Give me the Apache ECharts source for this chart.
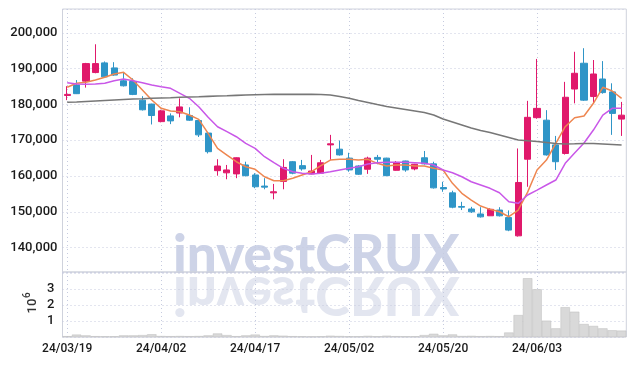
<!DOCTYPE html>
<html>
<head>
<meta charset="utf-8">
<script src="https://cdn.jsdelivr.net/npm/echarts@6/dist/echarts.min.js"></script>
<style>
  html, body { margin: 0; padding: 0; background: #fff; }
  #chart { width: 636px; height: 366px; }
</style>
</head>
<body>
<div id="chart"></div>
<script>
var dates = ['24/03/19', '24/03/20', '24/03/21', '24/03/22', '24/03/25', '24/03/26', '24/03/27', '24/03/28', '24/03/29', '24/04/01',
  '24/04/02', '24/04/03', '24/04/04', '24/04/05', '24/04/08', '24/04/09', '24/04/11', '24/04/12', '24/04/15', '24/04/16',
  '24/04/17', '24/04/18', '24/04/19', '24/04/22', '24/04/23', '24/04/24', '24/04/25', '24/04/26', '24/04/29', '24/04/30',
  '24/05/02', '24/05/03', '24/05/07', '24/05/08', '24/05/09', '24/05/10', '24/05/13', '24/05/14', '24/05/16', '24/05/17',
  '24/05/20', '24/05/21', '24/05/22', '24/05/23', '24/05/24', '24/05/27', '24/05/28', '24/05/29', '24/05/30', '24/05/31',
  '24/06/03', '24/06/04', '24/06/05', '24/06/07', '24/06/10', '24/06/11', '24/06/12', '24/06/13', '24/06/14', '24/06/17'];

var opens = [182500, 185400, 186500, 188900, 191600, 190200, 186600, 186400, 181200, 180100,
  175200, 176800, 177600, 176900, 175500, 172000, 161500, 160900, 160600, 163100,
  160300, 157200, 155300, 158500, 164000, 162900, 160600, 160800, 168700, 167500,
  165000, 162800, 161900, 165200, 165000, 161600, 164200, 162000, 165100, 163400,
  156800, 155300, 151500, 150800, 149400, 148900, 150500, 148400, 143300, 164700,
  176300, 175600, 168700, 166300, 184300, 191500, 182200, 187100, 183500, 175900];
var closes = [182800, 183000, 191400, 191400, 187700, 188200, 185200, 182800, 178500, 176900,
  178200, 175400, 179300, 175600, 171500, 166800, 162800, 161700, 165100, 160100,
  157000, 156900, 155600, 162400, 160800, 162000, 161400, 163700, 169000, 165900,
  161700, 160500, 165000, 164700, 160100, 163800, 161700, 163300, 163400, 156700,
  156400, 151300, 151300, 150000, 148600, 150700, 148900, 144900, 158200, 176400,
  178900, 165900, 164000, 182000, 188700, 181200, 188500, 183300, 177500, 177000];
var lows = [181200, 182900, 184700, 188700, 187500, 188000, 185000, 182600, 178300, 174400,
  175000, 174500, 176400, 175400, 170900, 166300, 160100, 159100, 159400, 159900,
  156600, 156300, 153500, 156300, 160500, 161500, 160500, 160600, 164500, 165700,
  161200, 160300, 160600, 163300, 160000, 161500, 161200, 161600, 163200, 156500,
  155600, 151000, 150500, 149700, 148400, 148900, 148700, 144600, 143100, 157000,
  176000, 165700, 161700, 166000, 180300, 181000, 180300, 183000, 171500, 171200];
var highs = [185100, 186800, 191600, 196800, 192000, 191800, 189000, 187300, 182300, 180200,
  178500, 177500, 181700, 179200, 175800, 172300, 164700, 163100, 165200, 164000,
  160800, 159400, 157800, 164700, 164200, 164500, 165900, 164500, 171500, 169900,
  166500, 163000, 165400, 165900, 165100, 164200, 164300, 163400, 167000, 164000,
  158400, 155900, 152800, 151400, 151300, 151000, 151300, 150400, 167700, 181000,
  192700, 178400, 171200, 186300, 194700, 195700, 192400, 192100, 185900, 180700];

// moving averages
var ma5 = [184780, 185900, 186170, 186820, 187570, 188490, 188970, 186820, 184020, 181230,
  178910, 178160, 177960, 177040, 175840, 171930, 167740, 165870, 164000, 162600,
  161880, 159810, 158690, 158690, 159360, 160280, 161210, 162880, 164470, 164670,
  164670, 164470, 164670, 163550, 162800, 163080, 163080, 162800, 162800, 162160,
  161680, 157960, 155170, 153300, 151630, 150700, 150030, 148640, 150510, 155500,
  161680, 164470, 169140, 173770, 176290, 176760, 180310, 184780, 183750, 181710];
var ma10 = [186060, 185700, 185620, 185700, 185900, 186620, 187100, 186620, 186060, 185420,
  184950, 184500, 183100, 181710, 179360, 176400, 173770, 172380, 170980, 169140,
  167740, 165400, 163720, 162160, 161210, 160760, 160560, 160760, 161210, 161680,
  162160, 162600, 163360, 163720, 163830, 163830, 163830, 163720, 163550, 163080,
  161680, 160930, 159810, 158410, 157490, 156570, 155340, 152830, 152380, 154700,
  156090, 157490, 158890, 163550, 166430, 169220, 172850, 177040, 178910, 178910];
var ma60 = [180590, 180670, 180810, 180950, 181090, 181230, 181370, 181510, 181590, 181710,
  181790, 181870, 181990, 182070, 182150, 182260, 182350, 182430, 182540, 182630,
  182710, 182770, 182820, 182820, 182820, 182820, 182820, 182770, 182630, 182210,
  181710, 181090, 180530, 179970, 179420, 179000, 178580, 178160, 177740, 177040,
  175920, 175090, 174250, 173410, 172710, 172150, 171460, 170760, 170060, 169840,
  169640, 169360, 169080, 168940, 169000, 169080, 169080, 168940, 168800, 168660];

// volume in millions
var volumes = [0.05, 0.15, 0.1, 0.05, 0.04, 0.04, 0.1, 0.1, 0.12, 0.17,
  0.06, 0.05, 0.06, 0.05, 0.06, 0.1, 0.22, 0.12, 0.05, 0.1,
  0.15, 0.06, 0.1, 0.08, 0.05, 0.04, 0.03, 0.04, 0.08, 0.06,
  0.04, 0.04, 0.07, 0.04, 0.08, 0.05, 0.04, 0.04, 0.12, 0.2,
  0.1, 0.16, 0.06, 0.07, 0.05, 0.06, 0.05, 0.28, 1.37, 3.67,
  2.98, 1.02, 0.54, 1.86, 1.58, 0.81, 0.69, 0.54, 0.42, 0.4];

var volTicks = [1, 2, 3];

var UP = '#e0196b';
var DOWN = '#2f95c7';
var gridLine = { color: '#c6cbdf', type: [1, 3], width: 1 };
var labelFont = 'Roboto';
var markFont = '900 54px Lato, Roboto, "Liberation Sans"';

var candles = opens.map(function (o, i) {
  return [o, closes[i], lows[i], highs[i]];
});

var chart = echarts.init(document.getElementById('chart'), null, { renderer: 'canvas' });

var option = {
  animation: false,
  backgroundColor: '#fff',
  grid: [
    { left: 62.5, right: 9.7, top: 9, height: 263, show: true, borderColor: '#cfd2dc', borderWidth: 1 },
    { left: 62.5, right: 9.7, top: 272, height: 65, show: true, borderColor: '#cfd2dc', borderWidth: 1 }
  ],
  xAxis: [
    {
      type: 'category', gridIndex: 0, data: dates, boundaryGap: true,
      axisLine: { show: false }, axisTick: { show: false }, axisLabel: { show: false },
      splitLine: { show: true, interval: 9, alignWithLabel: true, lineStyle: gridLine }
    },
    {
      type: 'category', gridIndex: 1, data: dates, boundaryGap: true,
      axisLine: { show: false }, axisTick: { show: false },
      axisLabel: { interval: 9, color: '#1a1a1a', fontFamily: labelFont, fontWeight: 500, fontSize: 12, margin: 6 },
      splitLine: { show: true, interval: 9, alignWithLabel: true, lineStyle: gridLine }
    }
  ],
  yAxis: [
    {
      type: 'value', gridIndex: 0, min: 133200, max: 206650, splitNumber: 7,
      axisLine: { show: false }, axisTick: { show: false },
      axisLabel: {
        showMinLabel: false, showMaxLabel: false, color: '#1a1a1a', fontFamily: labelFont, fontWeight: 500, fontSize: 13, margin: 5,
        formatter: function (v) { return v % 10000 === 0 ? v.toLocaleString('en-US') : ''; }
      },
      splitLine: { lineStyle: gridLine }
    },
    {
      type: 'value', gridIndex: 1, min: 0, max: 4.06, interval: 1,
      axisLine: { show: false }, axisTick: { show: false },
      axisLabel: {
        color: '#1a1a1a', fontFamily: labelFont, fontWeight: 500, fontSize: 13, margin: 8,
        formatter: function (v) { return volTicks.indexOf(v) >= 0 ? String(v) : ''; }
      },
      splitLine: { lineStyle: gridLine }
    }
  ],
  graphic: [
    // watermark and its reflection
    {
      type: 'text', x: 173, y: 256, scaleX: 0.98, z: -10,
      style: { text: 'investCRUX', font: markFont, fill: '#cdd3e7', verticalAlign: 'middle', align: 'left' }
    },
    {
      type: 'text', x: 173, y: 294, scaleX: 0.98, scaleY: -1, z: -10,
      style: { text: 'investCRUX', font: markFont, fill: '#e3e6f0', verticalAlign: 'middle', align: 'left' }
    },
    // unit of the volume axis, 10 to the 6th
    {
      type: 'group', x: 33, y: 306, rotation: Math.PI / 2,
      children: [
        { type: 'text', x: 0, y: 0, style: { text: '10', font: '500 13px Roboto', fill: '#333', verticalAlign: 'middle', align: 'center' } },
        { type: 'text', x: 8, y: -6, style: { text: '6', font: '500 10px Roboto', fill: '#333', verticalAlign: 'middle', align: 'left' } }
      ]
    }
  ],
  series: [
    {
      name: 'price', type: 'candlestick', xAxisIndex: 0, yAxisIndex: 0, data: candles, barWidth: '70%',
      itemStyle: { color: UP, color0: DOWN, borderColor: UP, borderColor0: DOWN, borderWidth: 1 }
    },
    {
      name: 'MA5', type: 'line', xAxisIndex: 0, yAxisIndex: 0, data: ma5, showSymbol: false,
      lineStyle: { color: '#ee8650', width: 1.5 }, itemStyle: { color: '#ee8650' }
    },
    {
      name: 'MA10', type: 'line', xAxisIndex: 0, yAxisIndex: 0, data: ma10, showSymbol: false,
      lineStyle: { color: '#c957e8', width: 1.5 }, itemStyle: { color: '#c957e8' }
    },
    {
      name: 'MA60', type: 'line', xAxisIndex: 0, yAxisIndex: 0, data: ma60, showSymbol: false,
      lineStyle: { color: '#777', width: 1.6 }, itemStyle: { color: '#777' }
    },
    {
      name: 'volume', type: 'bar', xAxisIndex: 1, yAxisIndex: 1, data: volumes, barWidth: '100%',
      itemStyle: { color: '#d9d9d9', borderColor: '#bdbdbd', borderWidth: 0.5 }
    }
  ]
};

chart.setOption(option);
</script>
</body>
</html>
